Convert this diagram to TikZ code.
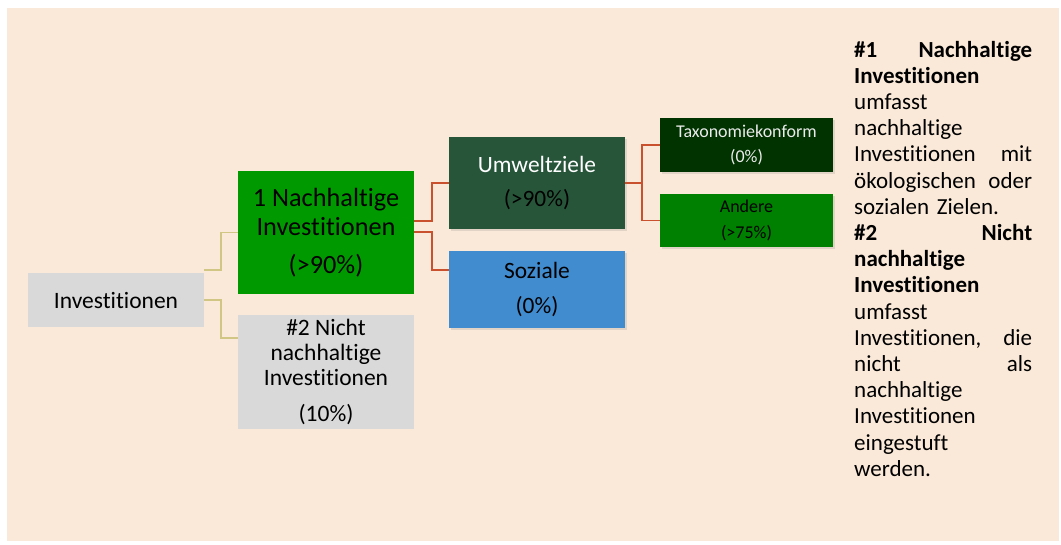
\documentclass[tikz,border=0pt]{standalone}
\usepackage{fontspec}
\setmainfont{Carlito}[Ligatures={NoCommon}]
\usetikzlibrary{positioning,shadows}
\definecolor{bgpeach}{HTML}{FAE9D8}
\definecolor{boxgrey}{HTML}{D9D9D9}
\definecolor{nachgreen}{HTML}{009900}
\definecolor{umwgreen}{HTML}{27553A}
\definecolor{taxgreen}{HTML}{003300}
\definecolor{andgreen}{HTML}{008000}
\definecolor{sozblue}{HTML}{418BCF}
\definecolor{oliveline}{HTML}{D2C685}
\definecolor{redline}{HTML}{C9512E}
\newcommand{\fullline}[2]{\makebox[178pt]{#1\hfill #2}}
\tikzset{
  box/.style={inner sep=0pt, align=center, text=black},
  shadowed/.style={drop shadow={shadow xshift=1.5pt, shadow yshift=-2pt, opacity=0.2}},
  lvlone/.style={line width=1.4pt, oliveline},
  lvltwo/.style={line width=1.7pt, redline},
}
\begin{document}
\begin{tikzpicture}[x=1pt,y=-1pt]
\useasboundingbox (0,0) rectangle (1061,544);
\fill[bgpeach] (7,8) rectangle (1059,541);
% boxes
\node[box, fill=boxgrey, minimum width=176pt, minimum height=54pt,
  font=\fontsize{23.5}{28}\selectfont] (inv) at (116,300) {Investitionen};
\node[box, fill=nachgreen, minimum width=176pt, minimum height=123pt,
  font=\fontsize{26.3}{29}\selectfont] (nach) at (326,232.5) {1 Nachhaltige\\Investitionen\\[9pt](>90\%)};
\node[box, fill=boxgrey, minimum width=176pt, minimum height=114pt,
  font=\fontsize{23.5}{25}\selectfont] (nicht) at (326,372) {\#2 Nicht\\nachhaltige\\Investitionen\\[11pt](10\%)};
\node[box, shadowed, fill=umwgreen, minimum width=176pt, minimum height=92pt,
  font=\fontsize{23.4}{33.3}\selectfont] (umw) at (537,183) {\textcolor{white}{Umweltziele}\\(>90\%)};
\node[box, shadowed, fill=sozblue, minimum width=176pt, minimum height=77pt,
  font=\fontsize{23.4}{35.6}\selectfont] (soz) at (537,289.5) {Soziale\\(0\%)};
\node[box, shadowed, fill=taxgreen, text=white!92!black, minimum width=173pt, minimum height=54pt,
  font=\fontsize{18}{25.7}\selectfont] (tax) at (746.5,145) {Taxonomiekonform\\(0\%)};
\node[box, shadowed, fill=andgreen, text=black, minimum width=173pt, minimum height=53pt,
  font=\fontsize{18}{26.7}\selectfont] (and) at (746.5,220.5) {Andere\\(>75\%)};
% connectors
\draw[lvlone] (inv.east |- 0,270) -- (221,270) |- (nach.west);
\draw[lvlone] (inv.east) -- (221,300) |- (nicht.west |- 0,338);
\draw[lvltwo] (nach.east |- 0,221) -- (432,221) |- (umw.west);
\draw[lvltwo] (nach.east |- 0,232) -- (432,232) |- (soz.west |- 0,270);
\draw[lvltwo] (umw.east) -- (642,183) |- (tax.west);
\draw[lvltwo] (642,183) |- (and.west);
% legend text
\node[inner sep=0pt, anchor=base west, text width=178pt, align=left,
  font=\fontsize{23}{26.2}\selectfont] (legend) at (854,57) {%
\fullline{\textbf{\#1}}{\textbf{Nachhaltige}}\\
\textbf{Investitionen}\\
umfasst\\
nachhaltige\\
\fullline{Investitionen}{mit}\\
\fullline{ökologischen}{oder}\\
sozialen Zielen.\\
\fullline{\textbf{\#2}}{\textbf{Nicht}}\\
\textbf{nachhaltige}\\
\textbf{Investitionen}\\
umfasst\\
\fullline{Investitionen,}{die}\\
\fullline{nicht}{als}\\
nachhaltige\\
Investitionen\\
eingestuft\\
werden.};
\end{tikzpicture}
\end{document}
